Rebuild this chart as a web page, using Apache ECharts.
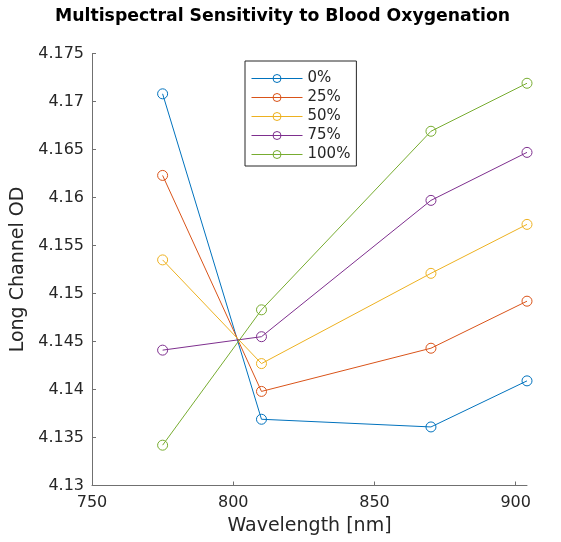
<!DOCTYPE html>
<html>
<head>
<meta charset="utf-8">
<script src="https://cdn.jsdelivr.net/npm/echarts@6/dist/echarts.min.js"></script>
<style>
  html, body { margin: 0; padding: 0; background: #fff; }
  #chart { width: 561px; height: 542px; }
</style>
</head>
<body>
<div id="chart"></div>
<script>
// Wavelengths of the four channels (nm)
const wavelengths = [775, 810, 870, 904];

// Long channel optical density per oxygenation level
const seriesNames = ['0%', '25%', '50%', '75%', '100%'];
const od0   = [4.1708, 4.1369, 4.1361, 4.1409];
const od25  = [4.1623, 4.1398, 4.1443, 4.1492];
const od50  = [4.1535, 4.1427, 4.1521, 4.1572];
const od75  = [4.1441, 4.1455, 4.1597, 4.1647];
const od100 = [4.1342, 4.1483, 4.1669, 4.1719];

const xTicks = [750, 800, 850, 900];
const yTicks = [4.13, 4.135, 4.14, 4.145, 4.15, 4.155, 4.16, 4.165, 4.17, 4.175];

const colors = ['#0072BD', '#D95319', '#EDB120', '#7E2F8E', '#77AC30'];
const allValues = [od0, od25, od50, od75, od100];

const font = 'DejaVu Sans';
const axisColor = '#707070';
const textColor = '#262626';

const series = seriesNames.map((name, i) => ({
  name: name,
  type: 'line',
  data: wavelengths.map((w, j) => [w, allValues[i][j]]),
  symbol: 'circle',
  symbolSize: 10,
  showAllSymbol: true,
  lineStyle: { color: colors[i], width: 1 },
  itemStyle: { color: 'rgba(255,255,255,0)', borderColor: colors[i], borderWidth: 1 },
  emphasis: { disabled: true },
  animation: false
}));

const chart = echarts.init(document.getElementById('chart'), null, { renderer: 'canvas' });
chart.setOption({
  animation: false,
  title: {
    text: 'Multispectral Sensitivity to Blood Oxygenation',
    left: 50,
    top: 3,
    textStyle: { fontFamily: font, fontWeight: 'bold', fontSize: 17.3, color: '#000' }
  },
  legend: {
    orient: 'vertical',
    left: 245,
    top: 61,
    padding: [10, 6, 4, 6],
    itemWidth: 51,
    itemHeight: 10,
    itemGap: 4,
    backgroundColor: '#fff',
    borderColor: '#262626',
    borderWidth: 1,
    borderRadius: 0,
    textStyle: { fontFamily: font, fontSize: 15, color: textColor, padding: [0, 0, 0, 0] },
    data: seriesNames.map((n, i) => ({
      name: n,
      itemStyle: { color: 'rgba(255,255,255,0)', borderColor: colors[i], borderWidth: 1 },
      lineStyle: { color: colors[i], width: 1 }
    }))
  },
  grid: { left: 92, right: 34, top: 53.5, bottom: 56.5, containLabel: false },
  xAxis: {
    type: 'value',
    min: 750,
    max: 904,
    interval: 50,
    name: 'Wavelength [nm]',
    nameLocation: 'middle',
    nameGap: 31,
    nameTextStyle: { fontFamily: font, fontSize: 19, color: textColor },
    axisLine: { show: true, lineStyle: { color: axisColor, width: 1 } },
    axisTick: { show: true, inside: true, length: 4, lineStyle: { color: axisColor }, customValues: xTicks },
    axisLabel: { fontFamily: font, fontSize: 16, color: textColor, margin: 9, customValues: xTicks },
    splitLine: { show: false }
  },
  yAxis: {
    type: 'value',
    min: 4.13,
    max: 4.175,
    interval: 0.005,
    name: 'Long Channel OD',
    nameLocation: 'middle',
    nameGap: 61,
    nameTextStyle: { fontFamily: font, fontSize: 19, color: textColor },
    axisLine: { show: true, lineStyle: { color: axisColor, width: 1 } },
    axisTick: { show: true, inside: true, length: 4, lineStyle: { color: axisColor }, customValues: yTicks },
    axisLabel: {
      fontFamily: font, fontSize: 16, color: textColor, margin: 8,
      customValues: yTicks,
      formatter: v => String(parseFloat(Number(v).toFixed(3)))
    },
    splitLine: { show: false }
  },
  series: series
});
</script>
</body>
</html>
